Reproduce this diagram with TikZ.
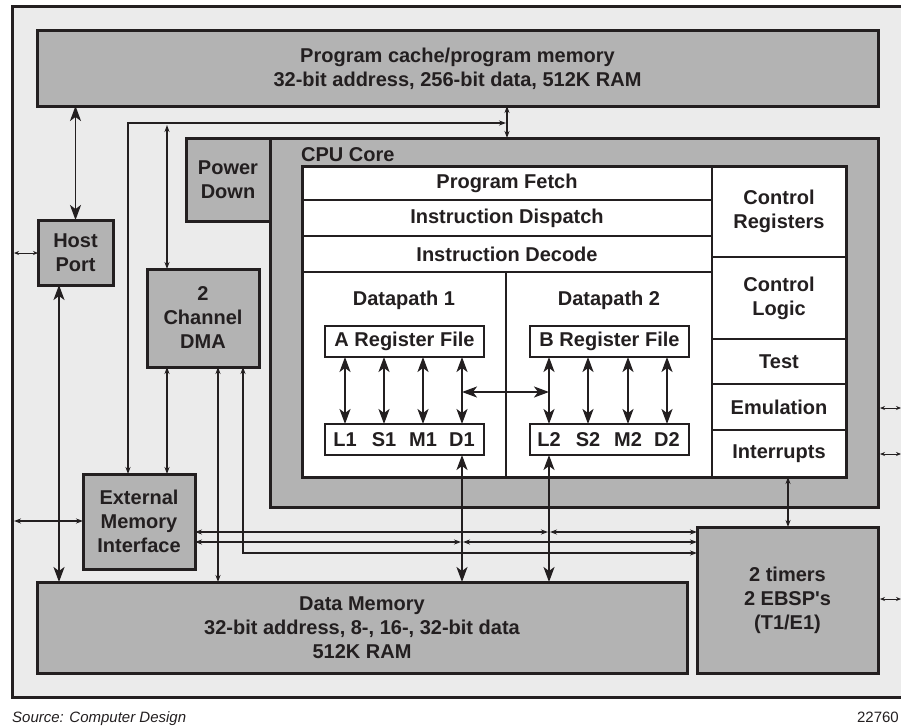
\documentclass[tikz,border=0pt]{standalone}
\usepackage{fontspec}
\setmainfont{Liberation Sans}
\usetikzlibrary{arrows.meta}
\definecolor{bggray}{HTML}{EBEBEB}
\definecolor{blkgray}{HTML}{B3B3B3}
\definecolor{ink}{HTML}{231F20}
\tikzset{
  blk/.style={draw=ink,fill=blkgray,line width=3pt,align=center,inner sep=0pt,outer sep=0pt},
  cell/.style={draw=ink,fill=white,line width=1.4pt,align=center,inner sep=0pt,outer sep=0pt},
  smarr/.style={draw=ink,line width=1.2pt,{Stealth[length=7pt,width=5pt]}-{Stealth[length=7pt,width=5pt]}},
  tinyarr/.style={draw=ink,line width=1pt,{Stealth[length=5pt,width=4pt]}-{Stealth[length=5pt,width=4pt]}},
  bigarr/.style={draw=ink,line width=1.8pt,{Stealth[length=15pt,width=11pt,inset=4pt]}-{Stealth[length=15pt,width=11pt,inset=4pt]}},
}
\begin{document}
\begin{tikzpicture}[x=1pt,y=-1pt,font=\fontsize{20}{24}\selectfont\bfseries,text=ink]
\useasboundingbox (0,0) rectangle (901,725);
\draw[draw=ink,fill=bggray,line width=3pt] (12,7) rectangle (915,697);

\node[blk,minimum width=841pt,minimum height=75pt] (progmem) at (457.5,68.5)
  {Program cache/program memory\\32-bit address, 256-bit data, 512K RAM};
\node[blk,minimum width=608pt,minimum height=369pt] (cpu) at (574,322.5) {};
\node[blk,minimum width=84pt,minimum height=83pt] (pwrdown) at (228,179.5) {Power\\Down};
\node[anchor=base west,inner sep=0pt] (cpulab) at (301,161) {CPU Core};
\node[blk,minimum width=75pt,minimum height=65pt] (hostport) at (75.5,252.5) {Host\\Port};
\node[blk,minimum width=112pt,minimum height=98pt] (dma) at (203,318) {2\\Channel\\DMA};
\node[blk,minimum width=112pt,minimum height=95pt] (emi) at (139,521.5) {External\\Memory\\Interface};
\node[blk,minimum width=650pt,minimum height=91pt] (datamem) at (362,627.5)
  {Data Memory\\32-bit address, 8-, 16-, 32-bit data\\512K RAM};
\node[blk,minimum width=181pt,minimum height=146pt] (timers) at (787.5,600)
  {2 timers\\2 EBSP\textquotesingle s\\(T1/E1)};

\node[cell,minimum width=410pt,minimum height=34pt] (fetch) at (507,183) {Program Fetch};
\node[cell,minimum width=410pt,minimum height=36pt] (dispatch) at (507,218) {Instruction Dispatch};
\node[cell,minimum width=410pt,minimum height=36pt] (decode) at (507,254) {Instruction Decode};
\node[cell,minimum width=204pt,minimum height=205pt] (dp1) at (404,374.5) {};
\node[cell,minimum width=206pt,minimum height=205pt] (dp2) at (609,374.5) {};
\node[cell,minimum width=134pt,minimum height=91pt] (ctrlreg) at (779,211.5) {Control\\Registers};
\node[cell,minimum width=134pt,minimum height=82pt] (ctrllogic) at (779,298) {Control\\Logic};
\node[cell,minimum width=134pt,minimum height=45pt] (test) at (779,361.5) {Test};
\node[cell,minimum width=134pt,minimum height=46pt] (emu) at (779,407) {Emulation};
\node[cell,minimum width=134pt,minimum height=47pt] (intr) at (779,453.5) {Interrupts};
\draw[ink,line width=3pt] (fetch.north west) rectangle (intr.south east);

\node (dp1lab) at (404,300) {Datapath 1};
\node (dp2lab) at (609,300) {Datapath 2};
\node[cell,minimum width=159pt,minimum height=31pt] (afile) at (404.5,341.5) {A Register File};
\node[cell,minimum width=159pt,minimum height=31pt] (bfile) at (609.5,341.5) {B Register File};
\node[cell,minimum width=159pt,minimum height=31pt] (aunits) at (404.5,439.5) {};
\node[cell,minimum width=159pt,minimum height=31pt] (bunits) at (609.5,439.5) {};
\foreach \u/\x in {L/345,S/384,M/423,D/462} \node (\u1) at (\x,439.5) {\u1};
\foreach \u/\x in {L/549,S/588,M/628,D/667} \node (\u2) at (\x,439.5) {\u2};

\foreach \u in {L1,S1,M1,D1} \draw[bigarr] (afile.south -| \u) -- (aunits.north -| \u);
\foreach \u in {L2,S2,M2,D2} \draw[bigarr] (bfile.south -| \u) -- (bunits.north -| \u);
\coordinate (xpath) at (0,392);
\draw[bigarr] (D1 |- xpath) -- (L2 |- xpath);
\draw[bigarr] (aunits.south -| D1) -- (datamem.north -| D1);
\draw[bigarr] (bunits.south -| L2) -- (datamem.north -| L2);

\draw[bigarr] (progmem.south -| hostport) -- (hostport.north);
\coordinate (hostcol) at (59,0);
\draw[bigarr] (hostport.south -| hostcol) -- (datamem.north -| hostcol);
\coordinate (hostext) at (14,253);
\draw[tinyarr] (hostext) -- (hostext -| hostport.west);
\coordinate (emiext) at (14,521);
\draw[smarr] (emiext) -- (emiext -| emi.west);

\coordinate (pjoin) at (507,123);
\draw[smarr] (progmem.south -| pjoin) -- (cpu.north -| pjoin);
\coordinate (emicol) at (128,0);
\draw[smarr] (emi.north -| emicol) |- ([xshift=-1pt]pjoin);
\coordinate (dmacol) at (167,125);
\draw[smarr] (dmacol) -- (dma.north -| dmacol);
\draw[smarr] (dma.south -| dmacol) -- (emi.north -| dmacol);
\coordinate (dmaA) at (218,0);
\coordinate (dmaB) at (243,553);
\draw[smarr] (dma.south -| dmaA) -- (datamem.north -| dmaA);
\draw[smarr] (dma.south -| dmaB) |- (timers.west |- dmaB);

\coordinate (busA) at (0,532);
\coordinate (busB) at (0,542);
\draw[smarr] (emi.east |- busA) -- ([xshift=-1pt]L2 |- busA);
\draw[smarr] ([xshift=1pt]L2 |- busA) -- (timers.west |- busA);
\draw[smarr] (emi.east |- busB) -- ([xshift=-1pt]D1 |- busB);
\draw[smarr] ([xshift=1pt]D1 |- busB) -- (timers.west |- busB);

\coordinate (intcol) at (788,0);
\draw[smarr] (intr.south -| intcol) -- (timers.north -| intcol);
\coordinate (extemu) at (901,408);
\coordinate (extint) at (901,454);
\coordinate (exttim) at (901,599);
\draw[tinyarr,shorten <=2pt] (extemu -| cpu.east) -- (extemu);
\draw[tinyarr,shorten <=2pt] (extint -| cpu.east) -- (extint);
\draw[tinyarr,shorten <=2pt] (exttim -| timers.east) -- (exttim);

\node[anchor=base west,inner sep=0pt,font=\fontsize{15}{18}\selectfont\mdseries\itshape] (src) at (12,722) {Source: Computer Design};
\node[anchor=base east,inner sep=0pt,font=\fontsize{15}{18}\selectfont\mdseries] (fignum) at (899,722) {22760};
\end{tikzpicture}
\end{document}
